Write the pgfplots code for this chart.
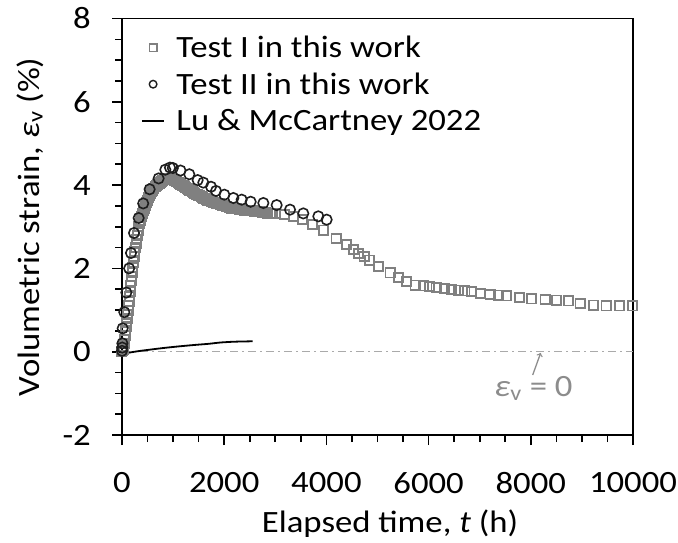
\documentclass[border=0pt]{standalone}
\usepackage{fontspec}
\setmainfont{Carlito}[FakeStretch=1.12]
\usepackage{pgfplots}
\pgfplotsset{compat=1.18}
\definecolor{sqgray}{RGB}{128,128,128}
\definecolor{circ}{RGB}{30,30,30}
\definecolor{refgray}{RGB}{170,170,170}
\definecolor{anngray}{RGB}{140,140,140}
\begin{document}
\fontsize{31}{37}\selectfont
\begin{tikzpicture}
\begin{axis}[
  scale only axis, width=511pt, height=416.5pt,
  xmin=0, xmax=10000, ymin=-2, ymax=8,
  xtick={0,2000,...,10000}, ytick={-2,0,...,8},
  minor x tick num=3, minor y tick num=3,
  xtick pos=bottom, ytick pos=left,
  tick align=outside,
  major tick length=10pt, minor tick length=7pt,
  axis line style={line width=1.6pt, black},
  every tick/.style={line width=1.6pt, black},
  /pgf/number format/assume math mode=true,
  /pgf/number format/set thousands separator={},
  scaled x ticks=false,
  xticklabel style={inner sep=0pt, anchor=north, yshift=-27pt},
  yticklabel style={inner sep=0pt, anchor=east, xshift=-21pt},
  xlabel={Elapsed time, \textit{t} (h)},
  ylabel={Volumetric strain, \textit{ε}\textsubscript{v} (\%)},
  xlabel style={at={(axis description cs:0.5245,0)}, anchor=base, yshift=-97pt},
  ylabel style={at={(axis description cs:-0.1624,0.5)}, anchor=base},
  clip=false,
  legend style={at={(axis description cs:0,1)}, anchor=north west, xshift=18.7pt, yshift=-15pt,
    draw=none, fill=none, inner xsep=0pt, inner ysep=0pt, row sep=8.5pt, column sep=11.2pt,
    nodes={inner sep=0pt, text height=24pt, text depth=4pt}},
  legend cell align=left,
  legend image code/.code={\draw[mark repeat=2,mark phase=2,#1] plot coordinates {(0pt,0pt) (11.3pt,0pt) (22.6pt,0pt)};},
]
\addplot[refgray, line width=1.3pt, dash pattern=on 8pt off 4pt on 2pt off 4pt, forget plot] coordinates {(0,0) (10000,0)};

\addplot[only marks, mark=square, mark size=4.6pt, mark options={draw=sqgray, line width=1.8pt}, forget plot] table {
x y
0 0
10 0.02
20 0.06
30 0.12
40 0.2
50 0.3
60 0.4
70 0.5
80 0.6
90 0.7
100 0.8
110 0.9
120 1.0
130 1.1
140 1.2
150 1.32
160 1.45
170 1.58
180 1.7
190 1.8
200 1.9
212 2.02
225 2.15
237 2.28
250 2.4
262 2.5
275 2.6
287 2.7
300 2.8
315 2.9
330 3.0
345 3.08
360 3.15
380 3.24
400 3.32
420 3.39
440 3.45
460 3.52
480 3.58
500 3.64
520 3.7
540 3.75
560 3.8
580 3.84
600 3.88
625 3.92
650 3.96
675 3.99
700 4.02
725 4.05
750 4.07
775 4.09
800 4.11
825 4.13
850 4.14
875 4.15
900 4.15
925 4.16
950 4.15
975 4.15
1000 4.14
1025 4.12
1050 4.10
1075 4.08
1100 4.06
1125 4.04
1150 4.02
1175 4.00
1200 3.98
1225 3.96
1250 3.94
1275 3.92
1300 3.90
1325 3.88
1350 3.86
1375 3.84
1400 3.82
1425 3.80
1450 3.78
1475 3.77
1500 3.75
1525 3.74
1550 3.72
1575 3.70
1600 3.69
1625 3.67
1650 3.66
1675 3.64
1700 3.63
1725 3.62
1750 3.61
1775 3.60
1800 3.59
1825 3.58
1850 3.57
1875 3.56
1900 3.55
1925 3.54
1950 3.53
1975 3.52
2000 3.50
2050 3.48
2100 3.47
2150 3.45
2200 3.44
2250 3.43
2300 3.42
2350 3.41
2400 3.40
2450 3.40
2500 3.39
2550 3.38
2600 3.37
2650 3.36
2700 3.36
2750 3.35
2800 3.34
2850 3.33
2900 3.33
2950 3.32
3000 3.32
3180 3.29
3353 3.25
3536 3.17
3732 3.05
3940 2.92
4188 2.72
4397 2.58
4528 2.46
4626 2.36
4737 2.28
4841 2.20
5017 2.04
5245 1.89
5408 1.78
5571 1.68
5734 1.60
5897 1.58
6014 1.56
6145 1.54
6308 1.52
6452 1.50
6582 1.48
6712 1.46
6843 1.44
7020 1.40
7202 1.38
7365 1.36
7528 1.34
7775 1.30
8018 1.27
8278 1.26
8507 1.24
8734 1.22
8963 1.16
9224 1.12
9472 1.10
9732 1.10
9994 1.10
};

\addplot[only marks, mark=o, mark size=5.2pt, mark options={draw=circ, line width=1.6pt}, forget plot] table {
x y
0 0.02
5 0.1
8 0.2
13 0.56
45 0.95
85 1.42
140 2.0
176 2.37
235 2.85
326 3.21
415 3.56
541 3.90
717 4.16
848 4.37
939 4.42
995 4.41
1145 4.35
1317 4.26
1481 4.12
1591 4.06
1742 3.96
1840 3.86
2003 3.77
2179 3.69
2342 3.65
2518 3.60
2766 3.57
3027 3.52
3288 3.41
3548 3.32
3842 3.25
4005 3.17
};

\addplot[black, line width=1.8pt, smooth, forget plot] table {
x y
0 -0.05
100 -0.03
250 0.0
420 0.03
750 0.08
1050 0.12
1400 0.16
1700 0.19
1920 0.22
2200 0.24
2557 0.25
};

\addlegendimage{only marks, mark=square, mark size=3.8pt, mark options={draw=sqgray, line width=1.4pt}}
\addlegendentry{Test I in this work}
\addlegendimage{only marks, mark=o, mark size=3.8pt, mark options={draw=circ, line width=1.4pt}}
\addlegendentry{Test II in this work}
\addlegendimage{black, line width=1.8pt}
\addlegendentry{Lu \& McCartney 2022}

\draw[anngray, line width=1.3pt, ->] (axis cs:8037,-0.56) -- (axis cs:8193,-0.03);
\node[anngray, anchor=base, inner sep=0pt] at (axis cs:8053,-1.086) {\textit{ε}\textsubscript{v} = 0};
\end{axis}
\pgfresetboundingbox
\path[use as bounding box] ([xshift=-122pt,yshift=-107pt]current axis.south west) rectangle ++(678pt,542pt);
\end{tikzpicture}
\end{document}
